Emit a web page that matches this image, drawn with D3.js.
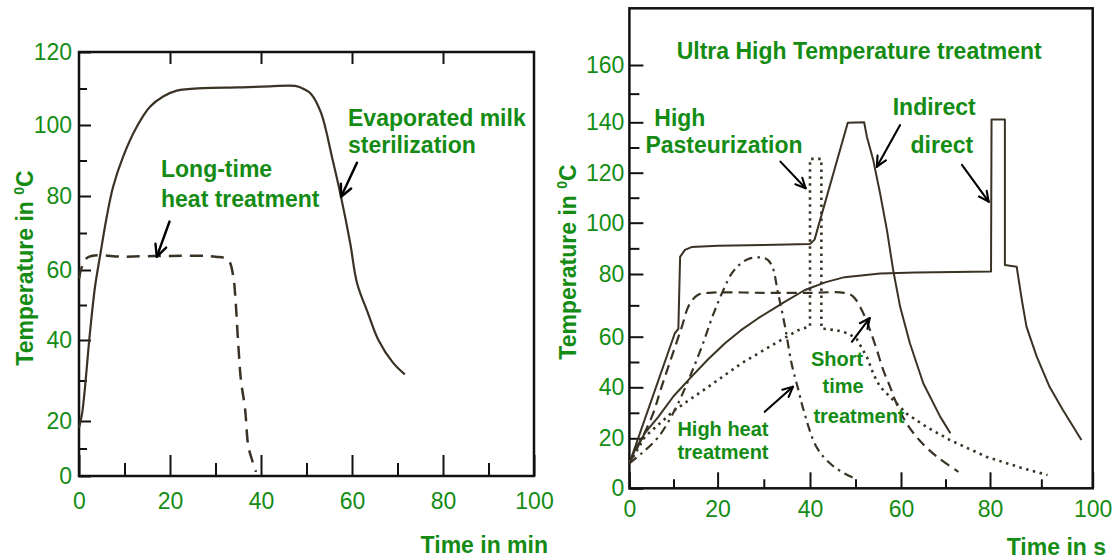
<!DOCTYPE html>
<html><head><meta charset="utf-8">
<script src="https://cdn.jsdelivr.net/npm/d3@7"></script>
<style>body{margin:0;background:#fff}svg{display:block}</style>
</head><body><svg id="c" width="1118" height="560"></svg>
<script>
// ---------- DATA ----------
// Left panel: time in min, temperature in °C
const leftXTicks = [0, 20, 40, 60, 80, 100];
const leftXMinor = [10, 30, 50, 70, 90];
const leftXTop = [20, 40, 60, 80];
const leftYTicks = [0, 20, 40, 60, 80, 100, 120];
const leftYMinor = [10, 30, 50, 70, 90, 110];

const evaporatedMilk = [[0,17.5],[0.7,22],[2.4,42],[3.5,55],[4.6,63.6],[6.1,74.4],[7.5,82.6],[9.7,91.1],[12.7,99.5],[15.6,105],[18.5,107.8],[21.5,109.4],[27.3,110.1],[35,110.3],[42,110.6],[47.5,110.7],[49.5,109.8],[51,108.5],[53.2,103.3],[55.6,91],[57.6,79.7],[59.6,67.3],[61.1,56.3],[63.5,47.7],[65.8,40],[69,34.4],[71.6,31.5]];
const longTimeHeat = [[0,57.5],[1.8,63.3],[10,63.6],[20,63.8],[30,63.6],[32.8,62.7],[33.9,58.2],[34.3,53.3],[35,39],[35.6,30],[36.5,23],[37.2,11],[38,6],[38.9,1.5]];

// Right panel: time in s, temperature in °C
const rightXTicks = [0, 20, 40, 60, 80, 100];
const rightXMinor = [10, 30, 50, 70, 90];
const rightYTicks = [0, 20, 40, 60, 80, 100, 120, 140, 160];
const rightYMinor = [30, 50, 70, 90, 110, 130, 150];

const uhtIndirect = [[0,10],[10.3,61.1],[11.1,62.5],[11.5,86.7],[12.6,89.4],[14.1,90.5],[20,91],[30,91.3],[40,91.7],[41,93.4],[48.3,139.8],[51.9,140],[52.5,134.3],[53.9,125],[55.4,111.8],[56.9,97.2],[58.3,81.3],[59.8,69.6],[62,57.4],[65,41.6],[68.8,28.5],[71.1,22]];
const uhtDirect = [[0,10],[1.3,15.5],[3.5,22],[6.6,28.5],[10,36.5],[14.1,44.2],[17.8,51],[21.6,57.4],[25,62],[28.8,65.9],[34.6,71.2],[38.9,74.9],[43.5,77.4],[47.6,79],[55.4,80.2],[63.3,80.6],[72,80.8],[80.2,81],[80.3,141],[82.9,141],[82.9,83.5],[85.2,82.8],[85.5,79.1],[86.2,71.7],[87.1,63.2],[89.1,52.1],[91.6,40.2],[94.2,31.1],[97.8,19.3]];
const highPasteurization = [[0,10],[3.5,20.6],[10.3,31.1],[17.9,40.2],[25.2,49.5],[32.5,57.4],[37.5,62.1],[39.8,63.2],[40,63.3],[40,125.5],[42.5,125.5],[42.5,62.6],[46,62],[48.5,61],[50.3,59],[52.5,52],[54,45],[55.4,40.2],[58.3,35],[61.3,29.6],[65.8,24.4],[71,19.3],[79.2,12.6],[86.4,8],[91.2,5.3]];
const shortTime = [[0,10],[5.1,28.5],[7.3,40.2],[9.6,52.1],[11.9,63.2],[13.5,70],[15.5,73.3],[18,74],[30,74],[40,74],[47.5,74],[49.5,72.8],[51.7,67.5],[53.2,62.1],[54.7,54.7],[56.1,46.8],[57.6,40.2],[58.7,35],[60.9,26.9],[64.1,19.3],[68.1,12.6],[72.9,6.6]];
const highHeat = [[0,10],[2.8,14],[6.6,20.6],[10.3,31.1],[13.4,42.9],[16.4,56],[19.4,68.5],[23.1,80.3],[25,84],[27,86.1],[30.3,86.1],[31.7,83.5],[33.1,73.8],[34.6,63.2],[36,49.5],[37.5,38.9],[38.6,31.1],[41.4,16.6],[44.5,9.8],[47.6,5.9],[49.9,3.9]];

// arrows (data coords): [from, to]
const leftArrows = [[[61.1,89.4],[57.6,79.8]], [[19.9,73.1],[17.1,63.6]]];
const rightArrows = [[[33.6,124.4],[39.05,113.8]], [[59.8,138.9],[54.7,122.4]], [[73.7,123.1],[79.7,108.4]], [[49.2,58],[53.1,65.9]], [[30.2,30.4],[36.3,40.2]]];

// ---------- STYLE ----------
const FONT = "'Liberation Sans', Arial, Helvetica, sans-serif";
const GREEN = "#148c14";
const INK = "#111";
const CURVE = "#3a3224";

const svg = d3.select("#c");
svg.append("rect").attr("width",1118).attr("height",560).attr("fill","#fff");

// ---------- SCALES ----------
const xL = d3.scaleLinear().domain([0,100]).range([79,534]);
const yL = d3.scaleLinear().domain(leftYTicks).range([476,421,340,270,196,125,52]);
const xR = d3.scaleLinear().domain(rightXTicks).range([629.4,717.6,810,901,990,1092.7]);
const yR = d3.scaleLinear().domain([0,20,40,60,80,100,120,140,160,180]).range([488.3,438.3,387.3,336.7,274,222.7,172.7,122.3,65,8.3]);

function styleAxis(g, showText){
  g.select(".domain").remove();
  g.attr("color", INK).attr("font-family", FONT).attr("font-size", 23);
  g.selectAll(".tick line").attr("stroke-width", 2);
  g.selectAll(".tick text").attr("fill", GREEN);
  if(!showText) g.selectAll(".tick text").remove();
}

function panel(x, y, cfg){
  const [x0,x1] = [x(x.domain()[0]), x(x.domain()[x.domain().length-1])];
  const [yb,yt] = [y(y.domain()[0]), y(y.domain()[y.domain().length-1])];
  svg.append("g").attr("transform",`translate(0,${yb})`)
    .call(d3.axisBottom(x).tickValues(cfg.xTicks).tickSizeInner(-cfg.xMajor).tickSizeOuter(0).tickPadding(cfg.xPad))
    .call(g=>styleAxis(g,true));
  svg.append("g").attr("transform",`translate(0,${yb})`)
    .call(d3.axisBottom(x).tickValues(cfg.xMinor).tickSizeInner(-cfg.xMinorLen).tickSizeOuter(0).tickFormat(""))
    .call(g=>styleAxis(g,false));
  if(cfg.xTop){
    svg.append("g").attr("transform",`translate(0,${yt})`)
      .call(d3.axisTop(x).tickValues(cfg.xTop).tickSizeInner(-12).tickSizeOuter(0).tickFormat(""))
      .call(g=>styleAxis(g,false));
  }
  svg.append("g").attr("transform",`translate(${x0},0)`)
    .call(d3.axisLeft(y).tickValues(cfg.yTicks).tickSizeInner(-cfg.yMajor).tickSizeOuter(0).tickPadding(cfg.yPad))
    .call(g=>styleAxis(g,true));
  svg.append("g").attr("transform",`translate(${x0},0)`)
    .call(d3.axisLeft(y).tickValues(cfg.yMinor).tickSizeInner(-cfg.yMinorLen).tickSizeOuter(0).tickFormat(""))
    .call(g=>styleAxis(g,false));
  svg.append("rect").attr("x",x0).attr("y",yt).attr("width",x1-x0).attr("height",yb-yt)
    .attr("fill","none").attr("stroke",INK).attr("stroke-width",2.5);
}

panel(xL, yL, {xTicks:leftXTicks, xMinor:leftXMinor, xTop:leftXTop, xMajor:21, xMinorLen:13, xPad:17,
  yTicks:leftYTicks, yMinor:leftYMinor, yMajor:12, yMinorLen:8, yPad:7});
panel(xR, yR, {xTicks:rightXTicks, xMinor:rightXMinor, xTop:null, xMajor:16, xMinorLen:9, xPad:12.5,
  yTicks:rightYTicks, yMinor:rightYMinor, yMajor:14, yMinorLen:10, yPad:5});

// ---------- CURVES ----------
function curve(data, x, y, dash, width, smooth){
  const line = d3.line().x(d=>x(d[0])).y(d=>y(d[1]))
    .curve(smooth ? d3.curveCatmullRom.alpha(0.5) : d3.curveLinear);
  svg.append("path").datum(data).attr("d", line)
    .attr("fill","none").attr("stroke",CURVE).attr("stroke-width",width)
    .attr("stroke-linejoin","round")
    .attr("stroke-dasharray", dash || null);
}
curve(evaporatedMilk, xL, yL, null, 2.2, true);
curve(longTimeHeat, xL, yL, "13,8", 2.5, true);

curve(uhtIndirect, xR, yR, null, 2, false);
curve(uhtDirect, xR, yR, null, 2, false);
curve(highPasteurization, xR, yR, "2.5,4.5", 2.6, false);
curve(shortTime, xR, yR, "10,6", 2.2, true);
curve(highHeat, xR, yR, "9,5,2.5,5", 2.2, true);

// ---------- ARROWS ----------
function arrow(a, x, y, head, width){
  const [fx,fy] = [x(a[0][0]), y(a[0][1])];
  const [tx,ty] = [x(a[1][0]), y(a[1][1])];
  const ang = Math.atan2(ty-fy, tx-fx);
  const g = svg.append("g").attr("stroke","#000").attr("stroke-width",width).attr("fill","none").attr("stroke-linecap","round");
  g.append("line").attr("x1",fx).attr("y1",fy).attr("x2",tx).attr("y2",ty);
  [-0.45, 0.45].forEach(da=>{
    g.append("line").attr("x1",tx).attr("y1",ty)
      .attr("x2",tx - head*Math.cos(ang+da)).attr("y2",ty - head*Math.sin(ang+da));
  });
}
leftArrows.forEach(a=>arrow(a, xL, yL, 13, 2.4));
rightArrows.forEach(a=>arrow(a, xR, yR, 11, 2.1));

// ---------- TEXT ----------
function label(txt, x, y, size, weight, anchor){
  return svg.append("text").attr("x",x).attr("y",y).text(txt)
    .attr("font-family",FONT).attr("font-size",size).attr("font-weight",weight||"bold")
    .attr("fill",GREEN).attr("text-anchor",anchor||"start");
}
label("Evaporated milk", 348, 125.5, 23);
label("sterilization", 348, 153, 23);
label("Long-time", 161, 176.7, 23);
label("heat treatment", 161, 206.7, 23);
label("Time in min", 548, 553, 23, "bold", "end");
label("Time in s", 1106, 555, 23, "bold", "end");

label("Ultra High Temperature treatment", 676.7, 59.3, 23);
label("High", 654.3, 126, 23);
label("Pasteurization", 645.4, 153.3, 23);
label("Indirect", 892.7, 115, 23);
label("direct", 910.5, 153, 23);
label("Short", 811, 366, 20);
label("time", 822.6, 393.3, 20);
label("treatment", 813.4, 422.7, 20);
label("High heat", 677.4, 436, 20);
label("treatment", 677.4, 459.3, 20);

function yTitle(cx, cy){
  const t = svg.append("text").attr("transform",`translate(${cx},${cy}) rotate(-90)`)
    .attr("text-anchor","middle").attr("font-family",FONT).attr("font-size",23)
    .attr("font-weight","bold").attr("fill",GREEN);
  t.append("tspan").text("Temperature in ");
  t.append("tspan").text("0").attr("font-size",14).attr("dy",-9);
  t.append("tspan").text("C").attr("font-size",23).attr("dy",9);
}
yTitle(33, 268);
yTitle(576, 262);
</script>
</body></html>
